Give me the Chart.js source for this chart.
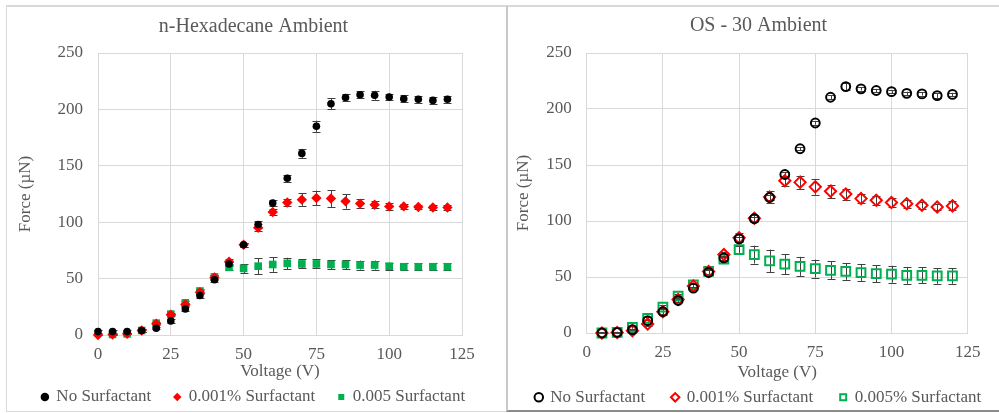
<!DOCTYPE html>
<html>
<head>
<meta charset="utf-8">
<script src="https://cdn.jsdelivr.net/npm/chart.js@4.4.1/dist/chart.umd.min.js"></script>
<style>
  html, body { margin: 0; padding: 0; background: #ffffff; width: 999px; height: 413px; overflow: hidden; position: relative; }
  .panelL { position: absolute; left: 6px; top: 5px; width: 502px; height: 407px; box-sizing: border-box; border: 1px solid #d9d9d9; border-right: none; border-top: 2px solid #d9d9d9; }
  .panelR { position: absolute; left: 506px; top: 5px; width: 510px; height: 407px; box-sizing: border-box; border-left: 2px solid #c8c8c8; border-top: 2px solid #d9d9d9; border-bottom: 2px solid #8c8c8c; }
  canvas { position: absolute; top: 0; }
  #cL { left: 0; }
  #cR { left: 480px; }
</style>
</head>
<body>
<div class="panelL"></div>
<div class="panelR"></div>
<canvas id="cL" width="507" height="416"></canvas>
<canvas id="cR" width="557" height="416"></canvas>
<script>
// ---------- data: n-Hexadecane Ambient ----------
const voltsL = [0,5,10,15,20,25,30,35,40,45,50,55,60,65,70,75,80,85,90,95,100,105,110,115,120];
const hexNoSurf      = [3,3,3,4,6,12.5,23,35,49,63,80,98,117,139,161,185,205,210.5,213,212.5,211,209.5,209,208,209];
const hexNoSurfErr   = [1,1,1,1,1,1.5,2,2,2,2,2,3,3,3,4,5,5,3,3,4,3,3,3,3,3];
const hex001         = [0,0.5,1,4,10,18,27,38,51,65,80,95,109,117.5,120,121.5,121,118.5,116.5,115.5,114,114,113.5,113,113];
const hex001Err      = [0.5,0.5,0.5,1,1,1,1.5,1.5,2,2,2,3,3,3.5,5.5,6.5,7.5,6.5,4,3,3,2.5,2,2,2];
const hex005         = [null,0.5,1,4,10.5,18.5,28.5,39,51.5,60,59,61,62.5,63.5,63,63,62.5,62.5,62,62,61,60.5,60.5,60.5,60.5];
const hex005Err      = [0,0.5,0.5,1,1,1,1.5,1.5,2,2,4,7,6.5,5,4,4,4,4,4,4,3,3,3,3,3];

// ---------- data: OS - 30 Ambient ----------
const voltsR = [5,10,15,20,25,30,35,40,45,50,55,60,65,70,75,80,85,90,95,100,105,110,115,120];
const osNoSurf    = [0,0.5,3,11,19,29,40,54,67,84,102,121,141.5,164.5,187.5,210.5,220,218,216.5,215.5,214,213.5,212,213];
const osNoSurfErr = [0.5,0.5,1,1,3,1.5,1.5,2,2,2,2,2,2,1.5,1.5,2,3,1.5,1.5,1.5,1.5,1.5,2,1.5];
const os001       = [0,0.5,2,8,19,30,42,55,70,85,102.5,121.5,136,134.5,130.5,126.5,124,120,118.5,116.5,115.5,114,112.5,113.5];
const os001Err    = [0.5,0.5,1,1.5,2,2,2,2,2.5,4,3,5,4.5,6,7,6,5,4,4,4,3.5,3,3,4];
const os005       = [0,0.5,5,13,23,33,43,55,66,74.5,70,64.5,61.5,59.5,57.5,56,55,54,53,52.5,51.5,51.5,51,51];
const os005Err    = [0.5,0.5,1,1.5,2,2,2,2,2,3,8,10,9,8.5,8,8,7.5,7.5,7.5,7.5,7.5,7,7,7];

// ---------- axis ticks / labels ----------
const xTicks = { min: 0, max: 125, step: 25 };
const yTicks = { min: 0, max: 250, step: 50 };
const titleL = 'n-Hexadecane Ambient';
const titleR = 'OS - 30 Ambient';
const xTitle = 'Voltage (V)';
const yTitle = 'Force (\u00b5N)';
const labelsL = ['No Surfactant', '0.001% Surfactant', '0.005 Surfactant'];
const labelsR = ['No Surfactant', '0.001% Surfactant', '0.005% Surfactant'];

const FONT = "'Liberation Serif', 'Times New Roman', serif";
const TXT = '#595959';
const GRID = '#d9d9d9';

function pts(xs, ys) {
  const out = [];
  for (let i = 0; i < xs.length; i++) if (ys[i] !== null) out.push({ x: xs[i], y: ys[i] });
  return out;
}
function errs(xs, ys, es) {
  const out = [];
  for (let i = 0; i < xs.length; i++) if (ys[i] !== null) out.push(es[i]);
  return out;
}

const errorBarPlugin = {
  id: 'errorBars',
  beforeDatasetsDraw(chart) {
    const ctx = chart.ctx;
    const xs = chart.scales.x, ys = chart.scales.y;
    ctx.save();
    ctx.strokeStyle = '#404040';
    ctx.lineWidth = 1;
    chart.data.datasets.forEach(ds => {
      const e = ds.errors || [];
      ds.data.forEach((p, i) => {
        const err = e[i];
        if (!err) return;
        const px = Math.round(xs.getPixelForValue(p.x)) + 0.5;
        const top = ys.getPixelForValue(p.y + err);
        const bot = ys.getPixelForValue(Math.max(0, p.y - err));
        ctx.beginPath();
        ctx.moveTo(px, top); ctx.lineTo(px, bot);
        ctx.moveTo(px - 4, Math.round(top) + 0.5); ctx.lineTo(px + 4, Math.round(top) + 0.5);
        ctx.moveTo(px - 4, Math.round(bot) + 0.5); ctx.lineTo(px + 4, Math.round(bot) + 0.5);
        ctx.stroke();
      });
    });
    ctx.restore();
  }
};

function makeChart(id, cfg) {
  return new Chart(document.getElementById(id), {
    type: 'scatter',
    data: { datasets: cfg.datasets },
    options: {
      responsive: false,
      animation: false,
      devicePixelRatio: 1,
      layout: { padding: { left: cfg.padLeft, right: 0, top: 0, bottom: cfg.padBottom } },
      plugins: {
        title: {
          display: true, text: cfg.title, color: TXT,
          font: { family: FONT, size: 20, weight: 'normal', lineHeight: 1 },
          padding: { top: cfg.titleTop, bottom: cfg.titleBottom }
        },
        legend: {
          display: true, position: 'bottom', align: 'center',
          labels: {
            usePointStyle: true, boxWidth: 6, boxHeight: 6,
            padding: cfg.legendPad, color: TXT,
            font: { family: FONT, size: 17, lineHeight: 1 }
          }
        },
        tooltip: { enabled: false }
      },
      scales: {
        x: {
          type: 'linear', position: 'bottom',
          min: xTicks.min, max: xTicks.max,
          ticks: { stepSize: xTicks.step, color: TXT, padding: cfg.xTickPad,
                   font: { family: FONT, size: 17, lineHeight: 1 } },
          grid: { color: GRID, lineWidth: 1, drawTicks: false },
          border: { color: GRID, width: 1 },
          title: { display: true, text: xTitle, color: TXT,
                   font: { family: FONT, size: 17, lineHeight: 1 },
                   padding: { top: cfg.xTitleTop, bottom: cfg.xTitleBottom } }
        },
        y: {
          type: 'linear', position: 'left',
          min: yTicks.min, max: yTicks.max,
          ticks: { stepSize: yTicks.step, color: TXT, padding: 15,
                   font: { family: FONT, size: 17, lineHeight: 1 } },
          grid: { color: GRID, lineWidth: 1, drawTicks: false },
          border: { color: GRID, width: 1 },
          title: { display: true, text: yTitle, color: TXT,
                   font: { family: FONT, size: 17, lineHeight: 1 },
                   padding: { top: cfg.yTitleTop, bottom: 0 } },
          afterFit(s) { s.width = cfg.yWidth; }
        },
        yR: {
          type: 'linear', position: 'right', display: true,
          ticks: { display: false },
          grid: { display: false, drawTicks: false },
          border: { display: false },
          afterFit(s) { s.width = cfg.rightWidth; }
        }
      }
    },
    plugins: [errorBarPlugin]
  });
}

makeChart('cL', {
  title: titleL, padLeft: 0, padBottom: 0.5,
  titleTop: 16.6, titleBottom: 16.4, legendPad: 23,
  xTickPad: 11.5, xTitleTop: -11.5, xTitleBottom: -15,
  yTitleTop: 17.5, yWidth: 98, rightWidth: 45,
  datasets: [
    { label: labelsL[0], data: pts(voltsL, hexNoSurf), errors: errs(voltsL, hexNoSurf, hexNoSurfErr),
      pointStyle: 'circle', pointRadius: 3.8, pointBackgroundColor: '#000000', pointBorderColor: '#000000', pointBorderWidth: 0,
      backgroundColor: '#000000', borderColor: '#000000', clip: false },
    { label: labelsL[1], data: pts(voltsL, hex001), errors: errs(voltsL, hex001, hex001Err),
      pointStyle: 'rectRot', pointRadius: 5.2, pointBackgroundColor: '#ff0000', pointBorderColor: '#ff0000', pointBorderWidth: 0,
      backgroundColor: '#ff0000', borderColor: '#ff0000', clip: false },
    { label: labelsL[2], data: pts(voltsL, hex005), errors: errs(voltsL, hex005, hex005Err),
      pointStyle: 'rect', pointRadius: 5.4, pointBackgroundColor: '#00b050', pointBorderColor: '#00b050', pointBorderWidth: 0,
      backgroundColor: '#00b050', borderColor: '#00b050', clip: false }
  ]
});

makeChart('cR', {
  title: titleR, padLeft: 0, padBottom: 0.2,
  titleTop: 15.6, titleBottom: 17.4, legendPad: 27,
  xTickPad: 10.8, xTitleTop: -7.1, xTitleBottom: -19.7,
  yTitleTop: 35.5, yWidth: 106.7, rightWidth: 69.3,
  datasets: [
    { label: labelsR[0], data: pts(voltsR, osNoSurf), errors: errs(voltsR, osNoSurf, osNoSurfErr),
      pointStyle: 'circle', pointRadius: 4.4, pointBackgroundColor: 'rgba(0,0,0,0)', pointBorderColor: '#000000', pointBorderWidth: 2,
      backgroundColor: 'rgba(0,0,0,0)', borderColor: '#000000', borderWidth: 2, clip: false },
    { label: labelsR[1], data: pts(voltsR, os001), errors: errs(voltsR, os001, os001Err),
      pointStyle: 'rectRot', pointRadius: 5.6, pointBackgroundColor: 'rgba(0,0,0,0)', pointBorderColor: '#ff0000', pointBorderWidth: 2,
      backgroundColor: 'rgba(0,0,0,0)', borderColor: '#ff0000', borderWidth: 2, clip: false },
    { label: labelsR[2], data: pts(voltsR, os005), errors: errs(voltsR, os005, os005Err),
      pointStyle: 'rect', pointRadius: 6.2, pointBackgroundColor: 'rgba(0,0,0,0)', pointBorderColor: '#00b050', pointBorderWidth: 2,
      backgroundColor: 'rgba(0,0,0,0)', borderColor: '#00b050', borderWidth: 2, clip: false }
  ]
});
</script>
</body>
</html>
